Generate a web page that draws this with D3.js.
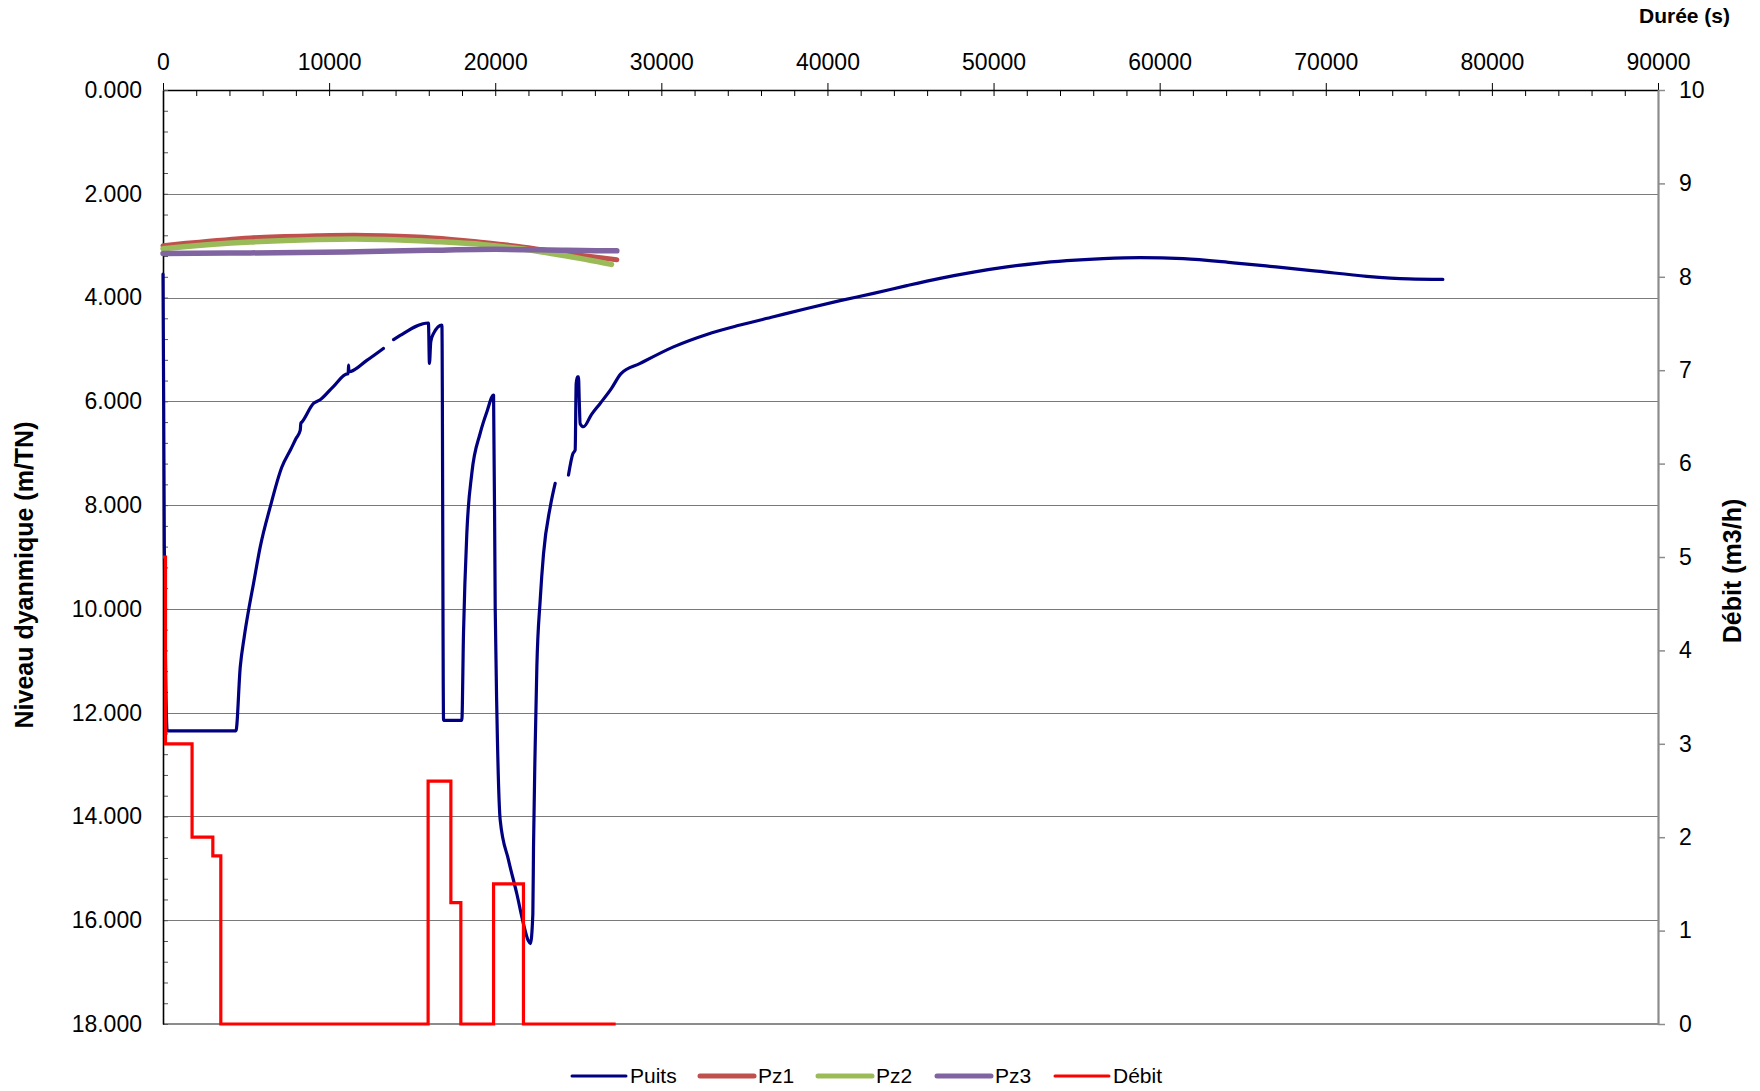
<!DOCTYPE html>
<html lang="fr">
<head>
<meta charset="utf-8">
<title>Essai de pompage – niveau dynamique et débit</title>
<script src="https://cdn.jsdelivr.net/npm/d3@7/dist/d3.min.js"></script>
<style>
  html, body { margin: 0; padding: 0; background: #ffffff; }
  svg { display: block; }
  svg text { font-family: "Liberation Sans", Arial, sans-serif; }
</style>
</head>
<body>
<svg id="chart" width="1760" height="1091"></svg>
<script>
// ---- Données ----------------------------------------------------------
// Puits : durée (s) et niveau dynamique (m/TN) ; null = lacune d'enregistrement
const puitsT = [0, 40, 80, 150, 250, 4390, 4650, 4890, 5150, 5450, 5850, 6450, 7150, 7700, 8000, 8260, 8300,
  8360, 9060, 9460, 10270, 11100, 11150, 11170, 11190, 12270, 13270, 13500, 13880, 14280, 15980,
  16040, 16120, 16290, 16790, 16890, 17990, 18090, 18290, 18590, 19090, 19500, 19900, 20000, 20100, 20300,
  20800, 21300, 21700, 22000, 22120, 22265, 22305, 22405, 22506, 22707, 22907, 23308, 23609, 24000,
  24410, 24674, 24813, 24874, 24950, 25013, 25060, 25113, 25314, 25800, 26318, 27000, 27560, 28725, 30731, 32738,
  34744, 36750, 38760, 40760, 42770, 44780, 46782, 48790, 50800, 52600, 54411, 56600, 58825, 61430, 64440, 67000,
  69461, 72470, 75000, 77047];
const puitsNiveau = [3.55, 6.0, 8.8, 11.0, 12.35, 12.35, 11.12, 10.54, 10.03, 9.51, 8.81, 8.04, 7.27, 6.92, 6.72, 6.56, 6.42,
  6.40, 6.04, 5.97, 5.71, 5.47, 5.47, 5.30, 5.43, 5.21, 4.98, null, 4.81, 4.73, 4.49,
  5.27, 4.85, 4.69, 4.53, 12.15, 12.15, 10.48, 8.55, 7.39, 6.62, 6.20, 5.88, 10.0, 12.0, 14.07,
  14.84, 15.49, 16.07, 16.40, 16.45, 15.88, 14.59, 12.66, 11.12, 9.83, 8.94, 8.04, 7.58, null,
  7.42, 7.01, 6.94, 5.66, 5.53, 5.53, 6.00, 6.43, 6.49, 6.25, 6.04, 5.75, 5.47, 5.27, 4.95, 4.71,
  4.53, 4.37, 4.21, 4.06, 3.92, 3.77, 3.63, 3.51, 3.41, 3.34, 3.29, 3.25, 3.23, 3.25, 3.33, 3.41,
  3.49, 3.59, 3.64, 3.65];

// Piézomètres
const pz1T = [0, 1240, 5250, 9260, 11500, 13280, 16290, 19300, 21300, 24310, 27320];
const pz1Niveau = [3.00, 2.96, 2.85, 2.81, 2.80, 2.81, 2.85, 2.94, 3.01, 3.15, 3.27];
const pz2T = [0, 1240, 5250, 9260, 11500, 13280, 16290, 19300, 21300, 24310, 27000];
const pz2Niveau = [3.06, 3.02, 2.93, 2.88, 2.87, 2.88, 2.92, 2.98, 3.05, 3.20, 3.36];
const pz3T = [0, 5250, 11000, 16000, 20000, 24310, 27320];
const pz3Niveau = [3.15, 3.14, 3.12, 3.09, 3.07, 3.09, 3.10];

// Débit de pompage (m3/h), paliers
const debitT = [0, 150, 1750, 3000, 3480, 15960, 17330, 17930, 19900, 21700, 27250];
const debitQ = [5, 3, 2, 1.8, 0, 2.6, 1.3, 0, 1.5, 0, 0];

// Axes
const xTicks = [0, 10000, 20000, 30000, 40000, 50000, 60000, 70000, 80000, 90000];
const niveauTicks = [0, 2, 4, 6, 8, 10, 12, 14, 16, 18];
const debitTicks = [0, 1, 2, 3, 4, 5, 6, 7, 8, 9, 10];

const legendItems = [
  { name: "Puits", color: "#000080", width: 3 },
  { name: "Pz1",   color: "#C0504D", width: 5 },
  { name: "Pz2",   color: "#9BBB59", width: 5 },
  { name: "Pz3",   color: "#8064A2", width: 5 },
  { name: "Débit", color: "#FF0000", width: 3 }
];

// ---- Mise en page ------------------------------------------------------
const FONT = "'Liberation Sans', Arial, sans-serif";
const plot = { left: 163, right: 1658, top: 90, bottom: 1024 };
const svg = d3.select("#chart");

const x = d3.scaleLinear().domain([0, 90000]).range([plot.left, plot.right]);
const yNiv = d3.scaleLinear().domain([0, 18]).range([plot.top, plot.bottom]);
const yDeb = d3.scaleLinear().domain([0, 10]).range([plot.bottom, plot.top]);

const zip = (ts, vs) => ts.map((t, i) => ({ t, v: vs[i] }));

// Quadrillage horizontal
svg.append("g")
  .selectAll("line")
  .data(niveauTicks.filter(d => d > 0 && d < 18))
  .join("line")
  .attr("x1", plot.left).attr("x2", plot.right)
  .attr("y1", d => Math.round(yNiv(d)) + 0.5).attr("y2", d => Math.round(yNiv(d)) + 0.5)
  .attr("stroke", "#7a7a7a").attr("stroke-width", 1);

// Ligne du bas (18.000) en gris
svg.append("line")
  .attr("x1", plot.left).attr("x2", plot.right)
  .attr("y1", yNiv(18)).attr("y2", yNiv(18))
  .attr("stroke", "#8c8c8c").attr("stroke-width", 2.2);

// Axe des durées (haut)
const xAxisMinor = d3.axisTop(x)
  .tickValues(d3.range(0, 90001, 2000))
  .tickSizeInner(-6).tickSizeOuter(0).tickFormat("");
svg.append("g").attr("transform", `translate(0,${plot.top})`).call(xAxisMinor)
  .call(g => g.select(".domain").remove())
  .call(g => g.selectAll("line").attr("stroke", "#000"));

const xAxis = d3.axisTop(x)
  .tickValues(xTicks)
  .tickFormat(d3.format("d"))
  .tickSizeInner(7).tickSizeOuter(0).tickPadding(13);
svg.append("g").attr("transform", `translate(0,${plot.top})`).call(xAxis)
  .attr("font-family", FONT)
  .call(g => g.select(".domain").attr("stroke", "#000").attr("stroke-width", 1.6))
  .call(g => g.selectAll("text").attr("font-size", 23).attr("fill", "#000"));

// Axe gauche : niveau dynamique
const yMinor = d3.axisLeft(yNiv)
  .tickValues(d3.range(0, 18.001, 0.4))
  .tickSizeInner(-5).tickSizeOuter(0).tickFormat("");
svg.append("g").attr("transform", `translate(${plot.left},0)`).call(yMinor)
  .call(g => g.select(".domain").remove())
  .call(g => g.selectAll("line").attr("stroke", "#555"));

const yAxis = d3.axisLeft(yNiv)
  .tickValues(niveauTicks)
  .tickFormat(d3.format(".3f"))
  .tickSizeInner(0).tickSizeOuter(0).tickPadding(21);
svg.append("g").attr("transform", `translate(${plot.left},0)`).call(yAxis)
  .attr("font-family", FONT)
  .call(g => g.select(".domain").attr("stroke", "#000").attr("stroke-width", 1.6))
  .call(g => g.selectAll("text").attr("font-size", 23).attr("fill", "#000"));

// Axe droit : débit
const yRight = d3.axisRight(yDeb)
  .tickValues(debitTicks)
  .tickFormat(d3.format("d"))
  .tickSizeInner(7).tickSizeOuter(0).tickPadding(14);
svg.append("g").attr("transform", `translate(${plot.right},0)`).call(yRight)
  .attr("font-family", FONT)
  .call(g => g.select(".domain").attr("stroke", "#8c8c8c").attr("stroke-width", 2.2))
  .call(g => g.selectAll(".tick line").attr("stroke", "#8c8c8c").attr("stroke-width", 1.5))
  .call(g => g.selectAll("text").attr("font-size", 23).attr("fill", "#000"));

// ---- Courbes ----------------------------------------------------------
const lineNiv = d3.line()
  .defined(d => d.v !== null)
  .x(d => x(d.t)).y(d => yNiv(d.v))
  .curve(d3.curveMonotoneX);
const lineDeb = d3.line()
  .x(d => x(d.t)).y(d => yDeb(d.v))
  .curve(d3.curveStepAfter);

const series = svg.append("g")
  .attr("fill", "none")
  .attr("stroke-linecap", "round")
  .attr("stroke-linejoin", "round");

series.append("path")
  .attr("d", lineNiv(zip(puitsT, puitsNiveau)))
  .attr("stroke", "#000080").attr("stroke-width", 3.2);

series.append("path")
  .attr("d", lineNiv(zip(pz1T, pz1Niveau)))
  .attr("stroke", "#C0504D").attr("stroke-width", 5);
series.append("path")
  .attr("d", lineNiv(zip(pz2T, pz2Niveau)))
  .attr("stroke", "#9BBB59").attr("stroke-width", 5.5);
series.append("path")
  .attr("d", lineNiv(zip(pz3T, pz3Niveau)))
  .attr("stroke", "#8064A2").attr("stroke-width", 5.5);

series.append("path")
  .attr("d", lineDeb(zip(debitT, debitQ)))
  .attr("stroke", "#FF0000").attr("stroke-width", 3.2)
  .attr("stroke-linecap", "butt").attr("stroke-linejoin", "miter");

// ---- Titres -----------------------------------------------------------
svg.append("text")
  .attr("x", 1730).attr("y", 23)
  .attr("text-anchor", "end")
  .attr("font-family", FONT)
  .attr("font-size", 21).attr("font-weight", "bold")
  .text("Durée (s)");

svg.append("text")
  .attr("transform", `translate(33,575) rotate(-90)`)
  .attr("text-anchor", "middle")
  .attr("font-family", FONT)
  .attr("font-size", 25).attr("font-weight", "bold")
  .text("Niveau dyanmique (m/TN)");

svg.append("text")
  .attr("transform", `translate(1741,571) rotate(-90)`)
  .attr("text-anchor", "middle")
  .attr("font-family", FONT)
  .attr("font-size", 25).attr("font-weight", "bold")
  .text("Débit (m3/h)");

// ---- Légende ----------------------------------------------------------
const legendX = [572, 700, 818, 937, 1055];
const legend = svg.append("g").attr("transform", "translate(0,1076)");
const item = legend.selectAll("g")
  .data(legendItems)
  .join("g")
  .attr("transform", (d, i) => `translate(${legendX[i]},0)`);
item.append("line")
  .attr("x1", 0).attr("x2", 54).attr("y1", 0).attr("y2", 0)
  .attr("stroke", d => d.color).attr("stroke-width", d => d.width)
  .attr("stroke-linecap", "round");
item.append("text")
  .attr("x", 58).attr("y", 0).attr("dy", "0.35em")
  .attr("font-family", FONT)
  .attr("font-size", 21)
  .text(d => d.name);
</script>
</body>
</html>
